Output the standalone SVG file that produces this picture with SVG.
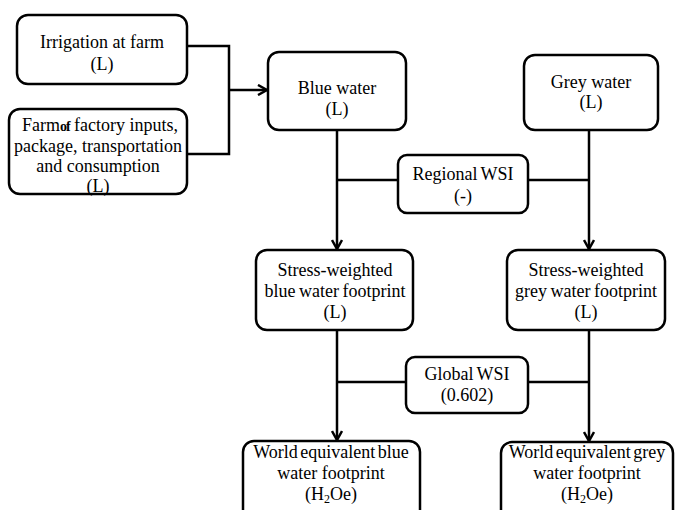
<svg xmlns="http://www.w3.org/2000/svg" width="676" height="510" viewBox="0 0 676 510">
<defs>
<style>
.box{fill:#fff;stroke:#000;stroke-width:2.5}
.t{font-family:'Liberation Serif',serif;font-size:18px;fill:#000;text-anchor:middle}
.c{fill:none;stroke:#000;stroke-width:2.5}
.sub{font-size:12px}
</style>
<marker id="ah" viewBox="0 0 12 12" refX="10.5" refY="6" markerWidth="12" markerHeight="12" markerUnits="userSpaceOnUse" orient="auto">
<path d="M1.5,1 L10.5,6 L1.5,11" fill="none" stroke="#000" stroke-width="2.5"/>
</marker>
</defs>
<rect width="676" height="510" fill="#fff"/>
<g id="connectors">
<polyline class="c" points="187,46 229,46 229,154 187,154"/>
<line class="c" x1="229" y1="90" x2="267" y2="90" marker-end="url(#ah)"/>
<line class="c" x1="337" y1="130" x2="337" y2="249" marker-end="url(#ah)"/>
<line class="c" x1="589" y1="130" x2="589" y2="249" marker-end="url(#ah)"/>
<line class="c" x1="337" y1="180" x2="398" y2="180"/>
<line class="c" x1="528" y1="180" x2="589" y2="180"/>
<line class="c" x1="337" y1="330" x2="337" y2="440" marker-end="url(#ah)"/>
<line class="c" x1="589" y1="330" x2="589" y2="441" marker-end="url(#ah)"/>
<line class="c" x1="337" y1="382" x2="406" y2="382"/>
<line class="c" x1="528" y1="382" x2="589" y2="382"/>
</g>
<g id="irrigation">
<rect class="box" x="17" y="15" width="170" height="69" rx="11"/>
<text class="t" x="102" y="48">Irrigation at farm</text>
<text class="t" x="102" y="70">(L)</text>
</g>
<g id="farm">
<rect class="box" x="9" y="109" width="178" height="85" rx="11"/>
<text class="t" x="100" y="131">Farm<tspan font-size="14" font-weight="bold" letter-spacing="-1">of</tspan> factory inputs,</text>
<text class="t" x="98" y="152">package, transportation</text>
<text class="t" x="98" y="172">and consumption</text>
<text class="t" x="98" y="192">(L)</text>
</g>
<g id="blue-water">
<rect class="box" x="268" y="52" width="138" height="78" rx="11"/>
<text class="t" x="337" y="94">Blue water</text>
<text class="t" x="337" y="115">(L)</text>
</g>
<g id="grey-water">
<rect class="box" x="524" y="55" width="134" height="75" rx="11"/>
<text class="t" x="591" y="88">Grey water</text>
<text class="t" x="591" y="108">(L)</text>
</g>
<g id="regional-wsi">
<rect class="box" x="398" y="155" width="130" height="58" rx="9"/>
<text class="t" x="463" y="180" word-spacing="-1">Regional WSI</text>
<text class="t" x="463" y="202">(-)</text>
</g>
<g id="stress-blue">
<rect class="box" x="256" y="250" width="157" height="80" rx="11"/>
<text class="t" x="335" y="276">Stress-weighted</text>
<text class="t" x="335" y="297" word-spacing="-1">blue water footprint</text>
<text class="t" x="335" y="318">(L)</text>
</g>
<g id="stress-grey">
<rect class="box" x="507" y="250" width="158" height="80" rx="11"/>
<text class="t" x="586" y="276">Stress-weighted</text>
<text class="t" x="586" y="297" word-spacing="-1">grey water footprint</text>
<text class="t" x="586" y="318">(L)</text>
</g>
<g id="global-wsi">
<rect class="box" x="406" y="357" width="122" height="56" rx="9"/>
<text class="t" x="467" y="380" word-spacing="-1">Global WSI</text>
<text class="t" x="467" y="401">(0.602)</text>
</g>
<g id="world-blue">
<rect class="box" x="243" y="441" width="177" height="85" rx="11"/>
<text class="t" x="331" y="458" word-spacing="-2">World equivalent blue</text>
<text class="t" x="331" y="479">water footprint</text>
<text class="t" x="331" y="500">(H<tspan class="sub" dy="3">2</tspan><tspan dy="-3">Oe)</tspan></text>
</g>
<g id="world-grey">
<rect class="box" x="501" y="442" width="172" height="85" rx="11"/>
<text class="t" x="587" y="458" word-spacing="-2">World equivalent grey</text>
<text class="t" x="587" y="479">water footprint</text>
<text class="t" x="587" y="500">(H<tspan class="sub" dy="3">2</tspan><tspan dy="-3">Oe)</tspan></text>
</g>
</svg>
